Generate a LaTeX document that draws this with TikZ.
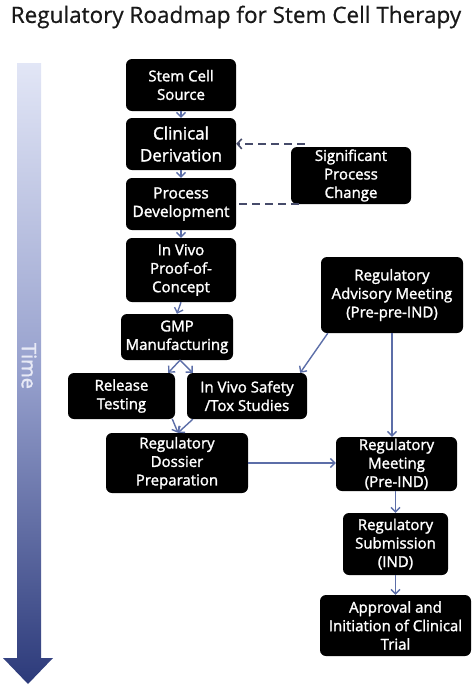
\documentclass[tikz,border=0pt]{standalone}
\usepackage{fontspec}
\setmainfont{Open Sans}
\newfontfamily\boxfont[FakeBold=1.6]{Open Sans}
\newfontfamily\titlefont[FakeBold=0.6]{Open Sans}
\usetikzlibrary{arrows.meta,calc}
\definecolor{arrcol}{RGB}{92,110,168}
\definecolor{dashcol}{RGB}{70,75,106}
\definecolor{timetop}{RGB}{226,230,246}
\definecolor{timebot}{RGB}{44,58,122}
\tikzset{
  box/.style={fill=black, rounded corners=6pt, text=white, align=center, inner sep=0pt,
    font=\boxfont\fontsize{15}{18.5}\selectfont},
  arr/.style={draw=arrcol, line width=1.4pt, -{Straight Barb[length=4.5pt,width=9pt]}},
  dashline/.style={draw=dashcol, line width=1.6pt, dash pattern=on 8pt off 5pt},
}
\begin{document}
\begin{tikzpicture}[x=1pt,y=-1pt]
\useasboundingbox (0,0) rectangle (475,686);
% title
\node[font=\titlefont\fontsize{22.5}{26}\selectfont, text={rgb,255:red,25;green,25;blue,25}] (title) at (236,17) {Regulatory Roadmap for Stem Cell Therapy};
% time arrow
\shade[top color=timetop, bottom color=timebot, middle color={rgb,255:red,150;green,160;blue,205}]
  (17,63) -- (41,63) -- (41,658) -- (53,658) -- (28,684) -- (3,658) -- (17,658) -- cycle;
\node[rotate=-90, text={rgb,255:red,232;green,234;blue,246}, font=\boxfont\fontsize{20}{22}\selectfont] (time) at (29,366) {Time};
% boxes
\node[box, minimum width=110pt, minimum height=52pt] (ss) at (181,85) {Stem Cell\\Source};
\node[box, minimum width=110pt, minimum height=52pt, font=\boxfont\fontsize{17}{22}\selectfont] (cd) at (181,144) {Clinical\\Derivation};
\node[box, minimum width=110pt, minimum height=52pt, font=\boxfont\fontsize{15.5}{18.5}\selectfont] (pd) at (181,204) {Process\\Development};
\node[box, minimum width=110pt, minimum height=64pt] (ivp) at (181,270) {In Vivo\\Proof-of-\\Concept};
\node[box, minimum width=112pt, minimum height=46pt] (gmp) at (177,337) {GMP\\Manufacturing};
\node[box, minimum width=107pt, minimum height=46pt] (rel) at (121.5,396) {Release\\Testing};
\node[box, minimum width=120pt, minimum height=46pt] (saf) at (247,396) {In Vivo Safety\\/Tox Studies};
\node[box, minimum width=142pt, minimum height=60pt] (dos) at (177,463) {Regulatory\\Dossier\\Preparation};
\node[box, minimum width=120pt, minimum height=57pt] (spc) at (351,175.5) {Significant\\Process\\Change};
\node[box, minimum width=142pt, minimum height=76pt] (adv) at (392,295) {Regulatory\\Advisory Meeting\\(Pre-pre-IND)};
\node[box, minimum width=121pt, minimum height=54pt] (rm) at (396.5,464) {Regulatory\\Meeting\\(Pre-IND)};
\node[box, minimum width=105pt, minimum height=62pt] (sub) at (395.5,544) {Regulatory\\Submission\\(IND)};
\node[box, minimum width=151pt, minimum height=61pt] (app) at (395.5,625.5) {Approval and\\Initiation of Clinical\\Trial};
% arrows main column
\draw[arr] (ss.south) -- (cd.north);
\draw[arr] (cd.south) -- (pd.north);
\draw[arr] (pd.south) -- (ivp.north);
\draw[arr] (ivp.south) -- (gmp.north);
\draw[arr] ($(gmp.south)+(3,0)$) -- ($(rel.north east)+(-7,0)$);
\draw[arr] ($(gmp.south)+(3,0)$) -- ($(saf.north west)+(6,0)$);
\draw[arr] ($(rel.north east)+(-3,46)$) -- ($(dos.north)+(1,0)$);
\draw[arr] ($(saf.south west)+(6,0)$) -- ($(dos.north)+(1,0)$);
% right column
\draw[arr] ($(adv.south west)+(7,0)$) -- ($(saf.north east)+(-7,0)$);
\draw[arr] (adv.south) -- (adv.south |- rm.north);
\draw[arr] (dos.east) -- (rm.west |- dos.east);
\draw[arr] (rm.south -| sub.north) -- (sub.north);
\draw[arr] (sub.south) -- (app.north);
% dashed feedback
\coordinate (dtop) at ($(spc.north west)+(14,-3)$);
\draw[dashline, -{Straight Barb[length=4.5pt,width=10pt]}] (dtop) -- (dtop -| cd.east);
\draw[dashline] ($(spc.south west)+(8,0)$) -- (spc.south west -| pd.east);
\end{tikzpicture}
\end{document}
